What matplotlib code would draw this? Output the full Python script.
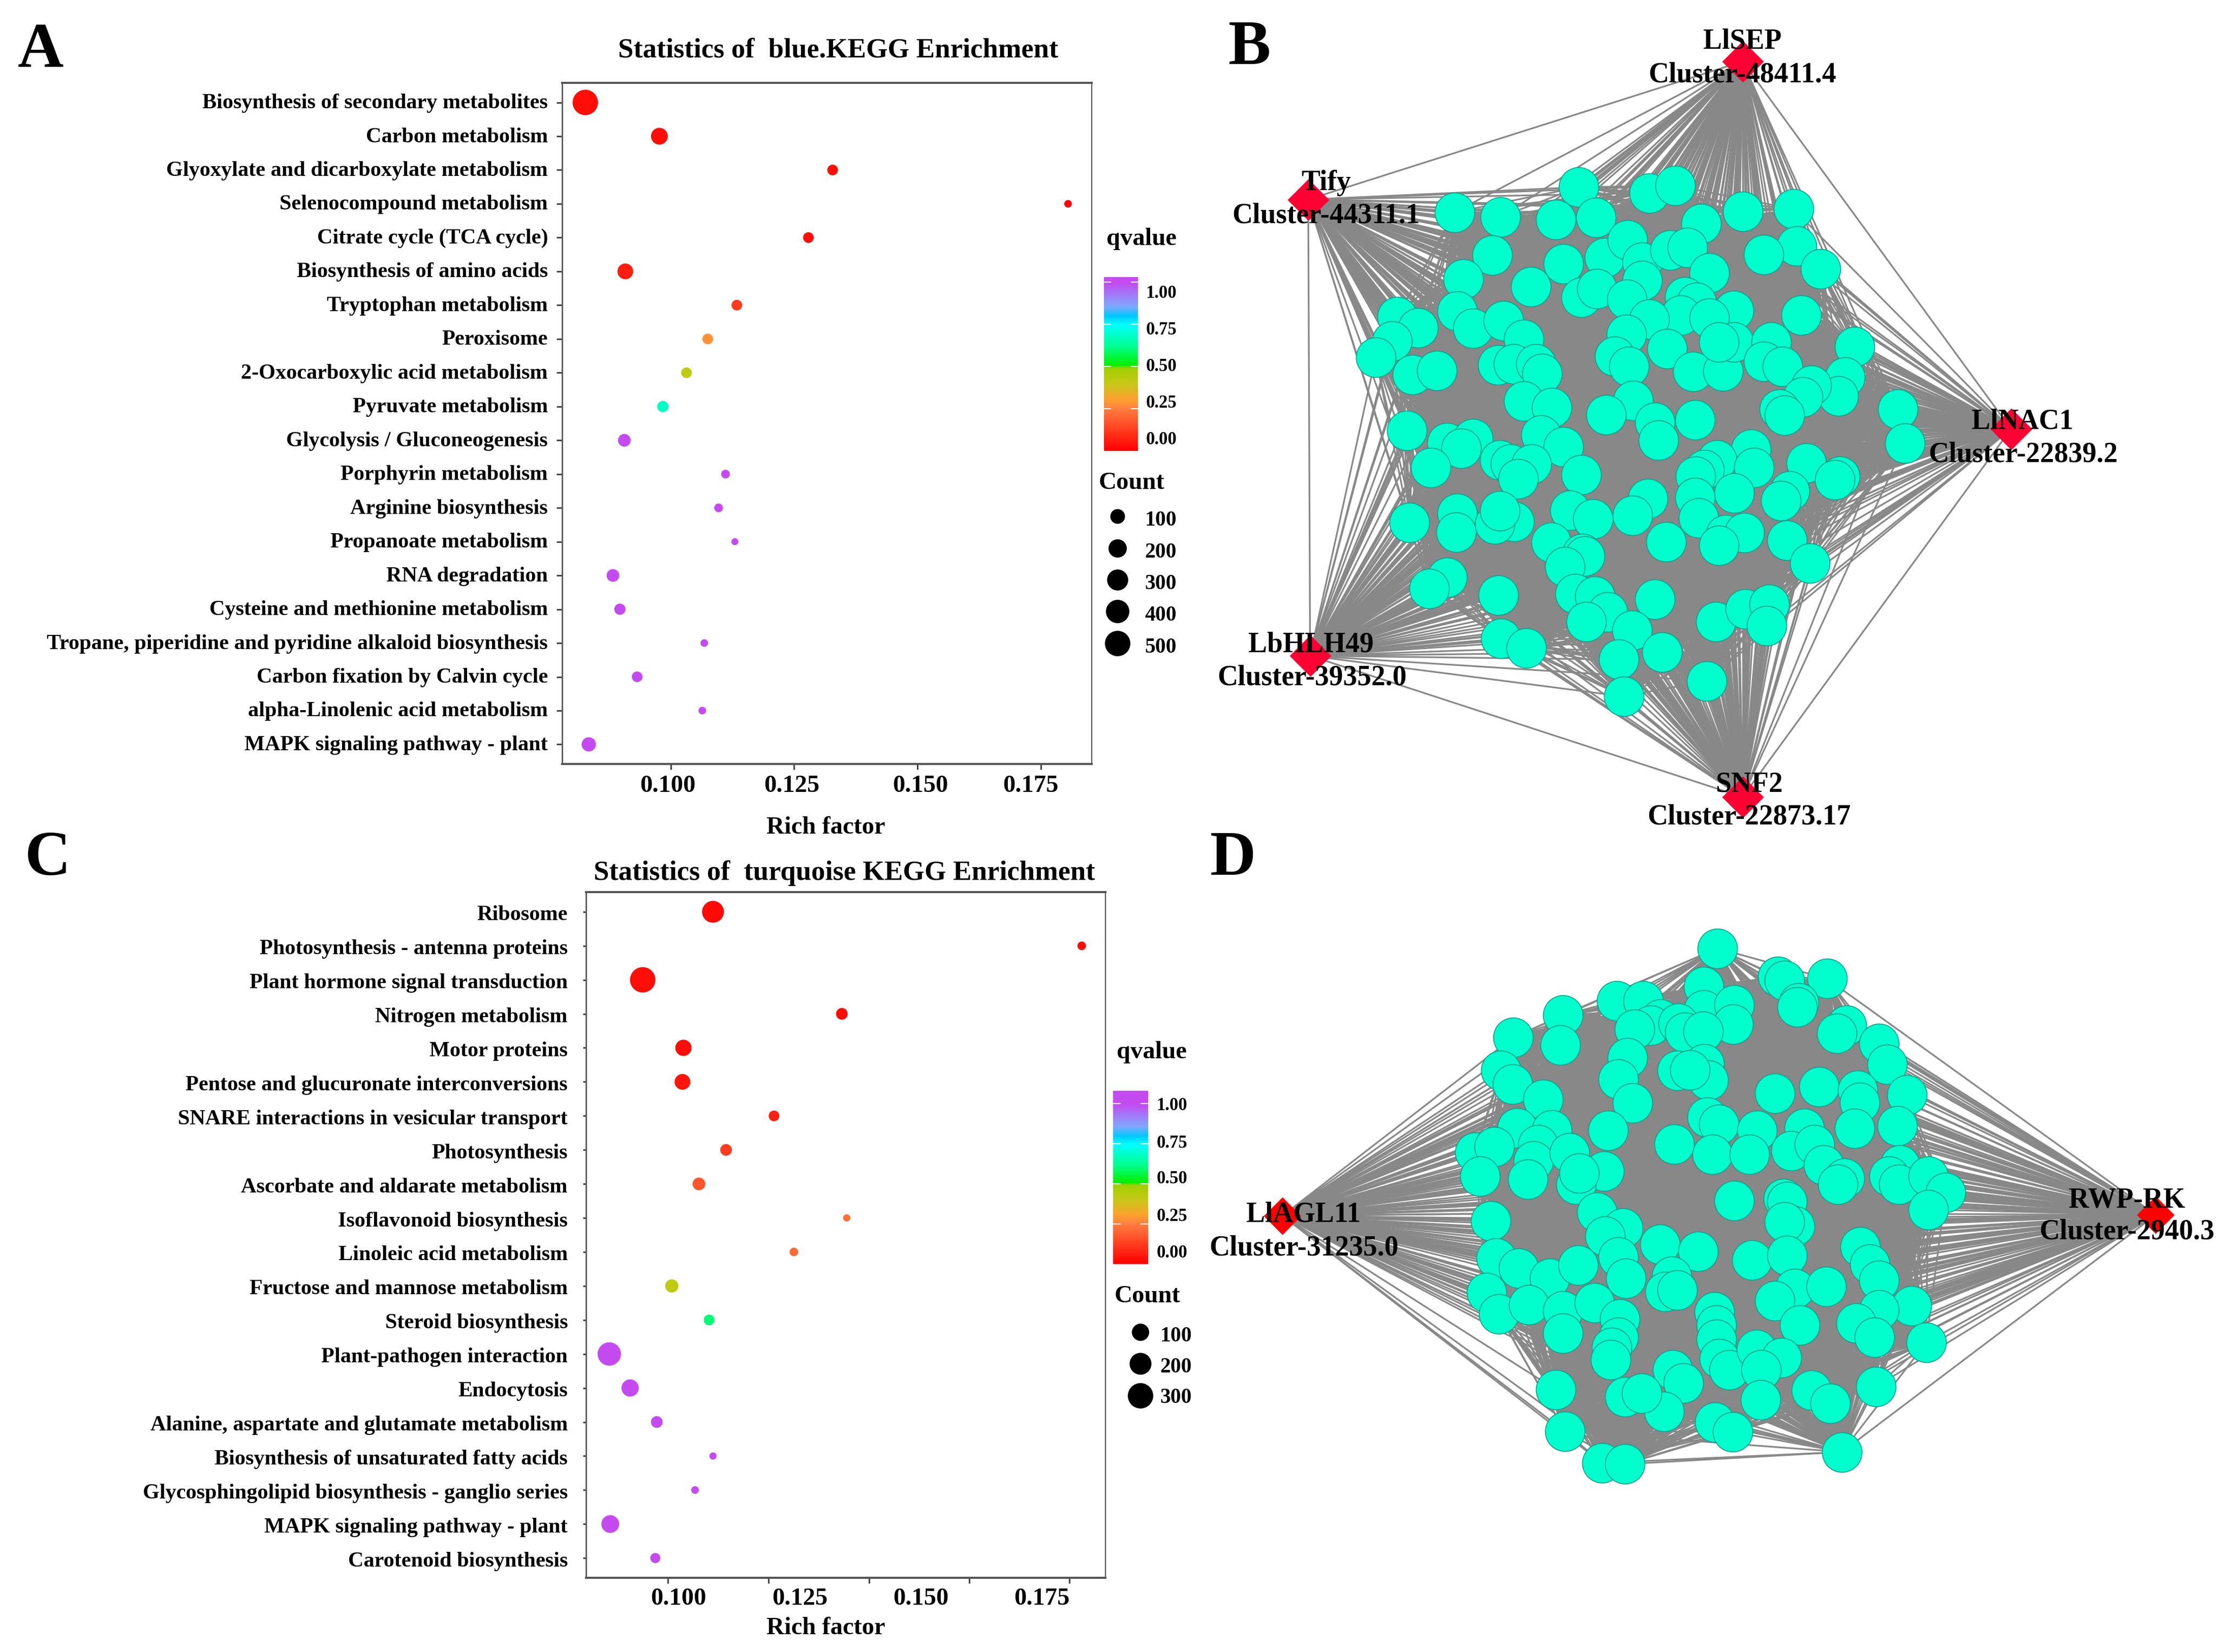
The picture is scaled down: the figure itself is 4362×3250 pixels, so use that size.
import numpy as np
import matplotlib
matplotlib.use("Agg")
import matplotlib.pyplot as plt
from matplotlib.collections import LineCollection
from matplotlib.colors import LinearSegmentedColormap
from matplotlib.transforms import ScaledTranslation

W, H = 4362, 3250
plt.rcParams["font.family"] = ["Liberation Serif", "DejaVu Serif"]
plt.rcParams["font.weight"] = "bold"

# Panel A
a_terms = ["Biosynthesis of secondary metabolites", "Carbon metabolism", "Glyoxylate and dicarboxylate metabolism",
           "Selenocompound metabolism", "Citrate cycle (TCA cycle)", "Biosynthesis of amino acids",
           "Tryptophan metabolism", "Peroxisome", "2-Oxocarboxylic acid metabolism", "Pyruvate metabolism",
           "Glycolysis / Gluconeogenesis", "Porphyrin metabolism", "Arginine biosynthesis", "Propanoate metabolism",
           "RNA degradation", "Cysteine and methionine metabolism",
           "Tropane, piperidine and pyridine alkaloid biosynthesis", "Carbon fixation by Calvin cycle",
           "alpha-Linolenic acid metabolism", "MAPK signaling pathway - plant"]
a_rich = [0.0827, 0.0977, 0.1328, 0.1805, 0.1279, 0.0908, 0.1134, 0.1075, 0.1032, 0.0984,
          0.0906, 0.1111, 0.1097, 0.1130, 0.0883, 0.0897, 0.1068, 0.0932, 0.1064, 0.0834]
a_count = [500, 153, 28, 3, 28, 125, 28, 28, 28, 35, 58, 9, 9, 1, 58, 35, 3, 28, 3, 89]
a_q = [0.03, 0.03, 0.03, 0.01, 0.03, 0.06, 0.12, 0.28, 0.42, 0.68,
       1, 1, 1, 1, 1, 1, 1, 1, 1, 1]

# Panel C
c_terms = ["Ribosome", "Photosynthesis - antenna proteins", "Plant hormone signal transduction", "Nitrogen metabolism",
           "Motor proteins", "Pentose and glucuronate interconversions", "SNARE interactions in vesicular transport",
           "Photosynthesis", "Ascorbate and aldarate metabolism", "Isoflavonoid biosynthesis",
           "Linoleic acid metabolism", "Fructose and mannose metabolism", "Steroid biosynthesis",
           "Plant-pathogen interaction", "Endocytosis", "Alanine, aspartate and glutamate metabolism",
           "Biosynthesis of unsaturated fatty acids", "Glycosphingolipid biosynthesis - ganglio series",
           "MAPK signaling pathway - plant", "Carotenoid biosynthesis"]
c_rich = [0.1071, 0.1832, 0.0926, 0.1337, 0.1010, 0.1008, 0.1197, 0.1098, 0.1042, 0.1347,
          0.1238, 0.0986, 0.1063, 0.0857, 0.0900, 0.0955, 0.1071, 0.1034, 0.0859, 0.0952]
c_count = [200, 5, 300, 25, 83, 75, 17, 25, 35, 1, 5, 41, 17, 240, 100, 25, 1, 2, 110, 13]
c_q = [0.02, 0.02, 0.03, 0.02, 0.03, 0.04, 0.07, 0.12, 0.17, 0.22,
       0.21, 0.42, 0.6, 1, 1, 1, 1, 1, 1, 1]

# the tick marks and their labels do not line up in the original
a_ticks = [0.100, 0.125, 0.150, 0.175]
a_label_x = [0.0994, 0.1245, 0.1506, 0.1729]
c_ticks = [0.0978, 0.1186, 0.1393, 0.1600, 0.1807]
c_label_x = [0.100, 0.125, 0.150, 0.175]
tick_labels = ["0.100", "0.125", "0.150", "0.175"]
q_ticks = [0, 0.25, 0.5, 0.75, 1.0]
q_labels = ["0.00", "0.25", "0.50", "0.75", "1.00"]

# Network B, positions in crop units
b_x = [369, 441, 528, 564, 591, 675, 716, 757, 822, 902, 907, 855, 945, 428, 383, 489, 540, 605, 641, 664, 708, 735,
       770, 568, 593, 664, 640, 731, 750, 914, 808, 725, 770, 675, 373, 279, 312, 271, 245, 303, 341, 398, 446, 478,
       437, 462, 497, 507, 639, 621, 643, 703, 744, 791, 808, 785, 867, 855, 885, 998, 983, 973, 930, 917, 880, 888,
       1066, 1077, 478, 522, 650, 607, 684, 690, 747, 294, 357, 398, 380, 332, 505, 540, 440, 457, 490, 469, 568, 835,
       782, 840, 762, 748, 922, 975, 967, 896, 882, 809, 747, 753, 673, 649, 551, 587, 298, 373, 372, 463, 432, 440,
       521, 702, 570, 574, 543, 795, 825, 785, 892, 928, 357, 329, 438, 559, 590, 610, 684, 648, 576, 442, 482, 780,
       826, 864, 860, 627, 695, 766, 635]
b_y = [397, 406, 411, 350, 407, 361, 347, 418, 395, 391, 460, 476, 503, 477, 522, 536, 493, 482, 449, 490, 468, 463,
       510, 556, 540, 525, 560, 555, 565, 589, 581, 589, 595, 597, 582, 592, 613, 638, 668, 700, 693, 614, 600, 635,
       682, 680, 680, 698, 625, 666, 685, 652, 695, 694, 640, 640, 640, 676, 685, 648, 705, 740, 720, 742, 765, 776,
       765, 829, 750, 762, 749, 775, 790, 823, 785, 805, 828, 820, 838, 874, 813, 835, 860, 868, 868, 895, 888, 840,
       860, 874, 878, 890, 866, 890, 897, 918, 936, 922, 930, 968, 932, 964, 954, 970, 977, 960, 995, 975, 980, 955,
       1014, 1013, 1035, 1040, 1060, 1000, 996, 1020, 1010, 1053, 1080, 1100, 1113, 1110, 1115, 1144, 1120, 1178, 1162,
       1194, 1212, 1162, 1138, 1130, 1170, 1233, 1219, 1273, 1302]
b_hub_x = [822, 139, 1244, 142, 822]
b_hub_y = [115, 373, 802, 1226, 1490]
b_names = ["LlSEP", "Tify", "LlNAC1", "LbHLH49", "SNF2"]
b_clusters = ["Cluster-48411.4", "Cluster-44311.1", "Cluster-22839.2", "Cluster-39352.0", "Cluster-22873.17"]
b_name_xy = [(822, 77), (167, 342), (1262, 788), (143, 1205), (832, 1467)]
b_cluster_xy = [(822, 140), (167, 403), (1263, 850), (145, 1267), (832, 1528)]

# Network D, positions in crop units
d_x = [802, 781, 895, 970, 905, 927, 924, 648, 688, 565, 489, 561, 781, 828, 826, 715, 700, 675, 742, 752, 780, 1000,
       985, 1050, 1062, 470, 488, 664, 650, 672, 740, 782, 788, 760, 535, 890, 958, 1017, 1020, 1093, 1012, 1078, 495,
       548, 527, 634, 786, 804, 736, 794, 863, 851, 935, 915, 951, 430, 460, 438, 520, 511, 575, 628, 585, 590, 965,
       997, 987, 1082, 1065, 1080, 1125, 1152, 1125, 828, 903, 909, 454, 617, 657, 630, 920, 905, 714, 772, 855, 909,
       650, 662, 1021, 1036, 1050, 463, 497, 545, 588, 732, 722, 740, 920, 969, 890, 448, 467, 513, 565, 613, 652,
       1100, 1050, 1015, 928, 1043, 565, 650, 640, 638, 797, 800, 800, 805, 820, 862, 900, 869, 868, 733, 750, 720,
       660, 686, 554, 946, 975, 1045, 1122, 568, 798, 825, 993, 625, 660]
d_y = [145, 240, 215, 220, 225, 280, 290, 275, 275, 310, 365, 384, 297, 285, 333, 320, 335, 345, 330, 352, 350, 335,
       355, 380, 432, 447, 480, 415, 468, 527, 447, 430, 470, 445, 518, 503, 487, 495, 525, 507, 590, 583, 588, 593,
       630, 595, 562, 580, 628, 653, 595, 654, 590, 645, 630, 648, 635, 708, 670, 715, 650, 695, 728, 700, 680, 712,
       727, 680, 708, 727, 708, 748, 790, 768, 763, 770, 818, 797, 835, 855, 830, 820, 875, 893, 915, 903, 907, 960,
       882, 925, 965, 910, 935, 960, 927, 955, 992, 988, 985, 980, 1015, 995, 1047, 1025, 1040, 1020, 1060, 1027, 1038,
       1070, 1075, 1105, 1095, 1105, 1130, 1160, 1042, 1075, 1110, 1158, 1185, 1135, 1155, 1185, 1260, 1185, 1218,
       1288, 1252, 1243, 1234, 1235, 1268, 1227, 1118, 1337, 1315, 1338, 1388, 1415, 1418]
d_hub_x = [135, 1474]
d_hub_y = [805, 803]
d_names = ["LlAGL11", "RWP-RK"]
d_clusters = ["Cluster-31235.0", "Cluster-2940.3"]
d_name_xy = [(167, 802), (1430, 767)]
d_cluster_xy = [(168, 885), (1430, 845)]

cmap = LinearSegmentedColormap.from_list("qv", [
    (0.0, "#ff0000"), (0.25, "#ff8040"), (0.30, "#ffa030"), (0.40, "#c8c818"), (0.49, "#a0d000"),
    (0.51, "#00f000"), (0.62, "#00ff90"), (0.75, "#00ffff"), (0.80, "#00c8ff"), (0.86, "#80a8ff"), (1.0, "#c44bf0")])


def px_size(d):
    # scatter area for a diameter given in image pixels
    return (np.asarray(d) * 72 / 100) ** 2


def dot_size(count, top):
    return px_size(12 + 38 * np.sqrt(np.asarray(count) / top))


def px_axes(fig, x0, y0, x1, y1):
    return fig.add_axes([x0 / W, 1 - y1 / H, (x1 - x0) / W, (y1 - y0) / H])


def dotplot(fig, box, terms, rich, count, q, top, ticks, label_x, xlim, y_tick_len, y_pad, lab_y, term_shift):
    ax = px_axes(fig, *box)
    ax.scatter(rich, range(len(terms)), s=dot_size(count, top), c=q, cmap=cmap, vmin=0, vmax=1, linewidths=0, zorder=3)
    ax.set_xlim(*xlim)
    ax.set_ylim(19.58, -0.58)
    ax.set_yticks(range(len(terms)), terms, fontsize=30.4)
    ax.set_xticks(ticks, [""] * len(ticks))
    ax.tick_params(axis="y", length=y_tick_len * 0.72, width=2.2, pad=y_pad * 0.72, color="#444444")
    ax.tick_params(axis="x", length=8, width=2.2, color="#444444")
    up = ScaledTranslation(0, term_shift / 100, fig.dpi_scale_trans)
    for lab in ax.get_yticklabels():
        lab.set_transform(lab.get_transform() + up)
    for side, lw in [("left", 2), ("right", 1.6), ("top", 3), ("bottom", 3)]:
        ax.spines[side].set_linewidth(lw)
        ax.spines[side].set_color("#555555")
    trans = ax.get_xaxis_transform()
    for x, lab in zip(label_x, tick_labels):
        ax.text(x, 1 - (lab_y - box[1]) / (box[3] - box[1]), lab, transform=trans, ha="center", va="center", fontsize=35)
    return ax


def colorbar(fig, x0, y0, x1, y1, q_top):
    ax = px_axes(fig, x0, y0, x1, y1)
    grad = np.linspace(0, q_top, 256)[:, None]
    ax.imshow(grad, extent=[0, 1, 0, q_top], origin="lower", aspect="auto", cmap=cmap, vmin=0, vmax=1)
    for t in q_ticks[1:]:
        ax.plot([0, 0.2], [t, t], color="white", lw=1.5)
        ax.plot([0.8, 1], [t, t], color="white", lw=1.5)
    ax.set_xlim(0, 1)
    ax.set_ylim(0, q_top)
    ax.axis("off")


def network(fig, box, xs, ys, hx, hy, hub_colour, hub_d, names, clusters, name_xy, cluster_xy, hub_links):
    ax = px_axes(fig, *box)
    ax.set_xlim(0, 1568)
    ax.set_ylim(1568, 0)
    ax.axis("off")
    pts = list(zip(xs, ys))
    hubs = list(zip(hx, hy))
    segs = [(p, q) for i, p in enumerate(pts) for q in pts[i + 1:]]
    segs += [(h, p) for h in hubs for p in pts]
    if hub_links:
        segs += [(hubs[i], hubs[j]) for i, j in hub_links]
    ax.add_collection(LineCollection(segs, colors="#888888", linewidths=2.4, zorder=1))
    ax.scatter(xs, ys, s=px_size(78), c="#00ffcc", edgecolors="#149c88", linewidths=1.2, zorder=2, clip_on=False)
    ax.scatter(hx, hy, s=px_size(hub_d / np.sqrt(2)), marker="D", c=hub_colour, linewidths=0, zorder=3, clip_on=False)
    for lab, (x, y) in zip(names + clusters, name_xy + cluster_xy):
        ax.text(x, y, lab, ha="center", va="center", fontsize=40, zorder=4, clip_on=False)


fig = plt.figure(figsize=(W / 100, H / 100), dpi=100)

dotplot(fig, (1106, 163, 2148, 1503), a_terms, a_rich, a_count, a_q, 500, a_ticks, a_label_x,
        (0.0780, 0.1853), 11, 17, 1546, 3)
dotplot(fig, (1153, 1755, 2175, 3104), c_terms, c_rich, c_count, c_q, 300, c_ticks, c_label_x,
        (0.0809, 0.1881), 6, 30, 3145, -2)
colorbar(fig, 2172, 545, 2239, 887, 1.03)
colorbar(fig, 2190, 2146, 2259, 2487, 1.08)

network(fig, (2400, 0, 4362, 1650), b_x, b_y, b_hub_x, b_hub_y, "#ff0033", 82, b_names, b_clusters, b_name_xy,
        b_cluster_xy, [(0, 1), (1, 3), (3, 4), (4, 2), (2, 0)])
network(fig, (2350, 1750, 4362, 3000), d_x, d_y, d_hub_x, d_hub_y, "#ff0000", 74, d_names, d_clusters, d_name_xy,
        d_cluster_xy, None)

# everything else is placed directly on the page
page = fig.add_axes([0, 0, 1, 1], facecolor="none")
page.set_xlim(0, W)
page.set_ylim(H, 0)
page.axis("off")

for lab, x, y in [("A", 80, 101), ("B", 2459, 96), ("C", 94, 1691), ("D", 2426, 1691)]:
    page.text(x, y, lab, ha="center", va="center", fontsize=90)

page.text(1649, 100, "Statistics of  blue.KEGG Enrichment", ha="center", va="center", fontsize=39.3)
page.text(1661, 1718, "Statistics of  turquoise KEGG Enrichment", ha="center", va="center", fontsize=39.3)
page.text(1625, 1628, "Rich factor", ha="center", va="center", fontsize=35)
page.text(1625, 3203, "Rich factor", ha="center", va="center", fontsize=35)

# legends A
page.text(2246, 470, "qvalue", ha="center", va="center", fontsize=35)
page.text(2226, 950, "Count", ha="center", va="center", fontsize=35)
for lab, y in zip(q_labels, [866, 794, 722, 649, 577]):
    page.text(2315, y, lab, ha="right", va="center", fontsize=25)
a_legend_counts = [100, 200, 300, 400, 500]
a_legend_y = [1016, 1079, 1141, 1203, 1266]
page.scatter([2199] * 5, a_legend_y, s=dot_size(a_legend_counts, 500), c="black", linewidths=0)
for n, y in zip(a_legend_counts, a_legend_y):
    page.text(2315, y + 8, str(n), ha="right", va="center", fontsize=30)

# legends C
page.text(2266, 2070, "qvalue", ha="center", va="center", fontsize=35)
page.text(2257, 2550, "Count", ha="center", va="center", fontsize=35)
for lab, y in zip(q_labels, [2465, 2393, 2320, 2249, 2175]):
    page.text(2336, y, lab, ha="right", va="center", fontsize=25)
c_legend_counts = [100, 200, 300]
c_legend_y = [2621, 2683, 2746]
page.scatter([2244] * 3, c_legend_y, s=dot_size(c_legend_counts, 300), c="black", linewidths=0)
for n, y in zip(c_legend_counts, [2629, 2690, 2750]):
    page.text(2345, y, str(n), ha="right", va="center", fontsize=30)

fig.savefig("out.png", dpi=100, facecolor="white")
